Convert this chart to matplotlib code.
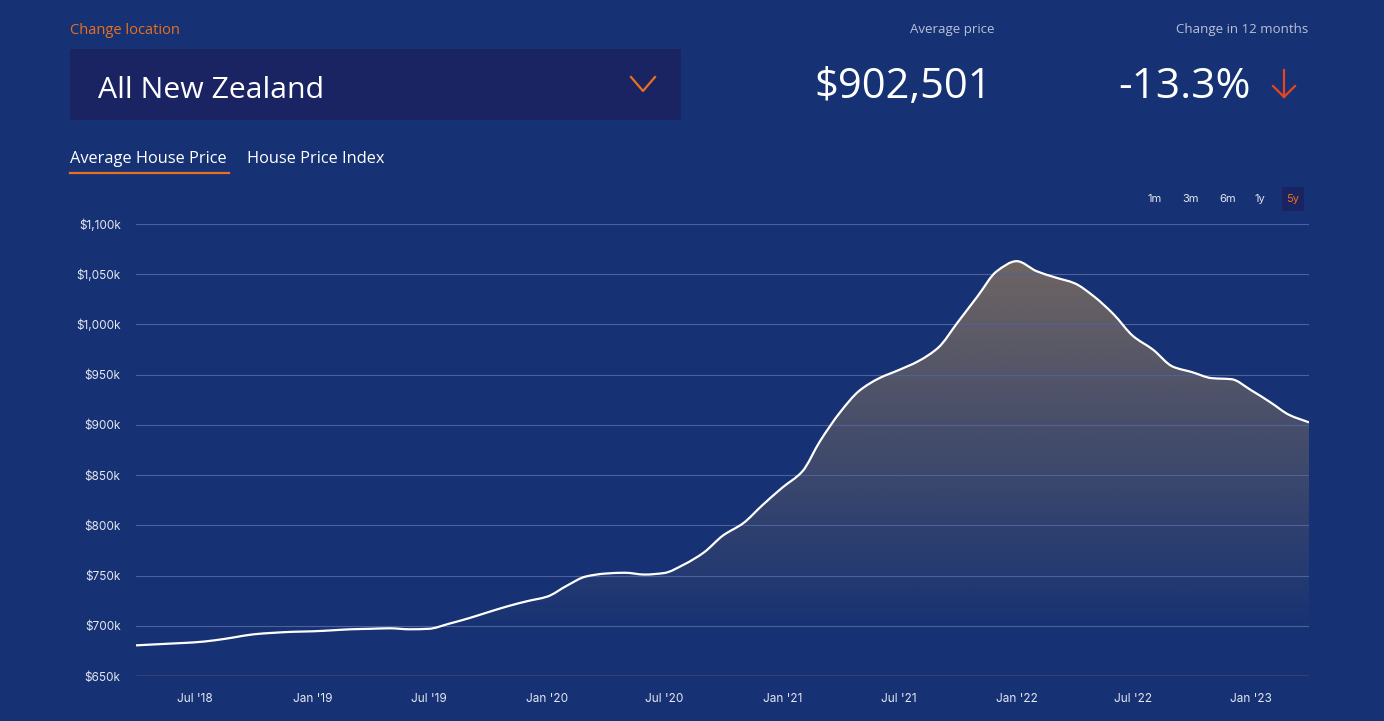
import numpy as np
import pandas as pd
import matplotlib.pyplot as plt
import matplotlib.dates as mdates
from matplotlib.patches import Rectangle, PathPatch
from matplotlib.path import Path
from matplotlib.lines import Line2D

# Average house price, all NZ, monthly ($k)
months = pd.date_range('2018-04-01', '2023-04-01', freq='MS')
prices_k = [680.5, 681.5, 682.5, 683.5, 685.5, 688.5, 691.5, 693, 694, 694.5,
            695.5, 696.5, 697, 697.5, 696.5, 697, 702, 707.5, 713.5, 719.5,
            724.5, 729, 740, 749, 752, 752.8, 751, 752.5, 761, 773,
            790, 802, 820, 837.5, 853.5, 884, 912.5, 934, 946.5, 954.5,
            963.5, 977, 1002, 1028, 1053, 1063, 1053, 1047, 1041, 1028,
            1010, 988.5, 975, 958, 952.5, 946.5, 945.5, 934.5, 922, 910,
            902.5]

tick_dates = ['2018-07-01', '2019-01-01', '2019-07-01', '2020-01-01', '2020-07-01',
              '2021-01-01', '2021-07-01', '2022-01-01', '2022-07-01', '2023-01-01']
tick_labels = ["Jul '18", "Jan '19", "Jul '19", "Jan '20", "Jul '20",
               "Jan '21", "Jul '21", "Jan '22", "Jul '22", "Jan '23"]
y_ticks = [650, 700, 750, 800, 850, 900, 950, 1000, 1050, 1100]
ranges = ['1m', '3m', '6m', '1y', '5y']

BG = '#163274'
ORANGE = '#e8701e'
W, H = 1384, 721

fig = plt.figure(figsize=(W / 100, H / 100), dpi=100, facecolor=BG)


def fx(x):
    return x / W


def fy(y):
    return 1 - y / H


def monotone_path(x, y):
    # monotone cubic through the points (like d3 curveMonotoneX), as bezier
    dx = np.diff(x)
    s = np.diff(y) / dx
    m = np.zeros_like(y)
    m[0], m[-1] = s[0], s[-1]
    for i in range(1, len(y) - 1):
        if s[i - 1] * s[i] > 0:
            m[i] = 3 * (dx[i - 1] + dx[i]) / ((2 * dx[i] + dx[i - 1]) / s[i - 1] +
                                               (dx[i] + 2 * dx[i - 1]) / s[i])
    verts = [(x[0], y[0])]
    codes = [Path.MOVETO]
    for i in range(len(x) - 1):
        h = dx[i] / 3
        verts += [(x[i] + h, y[i] + m[i] * h),
                  (x[i + 1] - h, y[i + 1] - m[i + 1] * h),
                  (x[i + 1], y[i + 1])]
        codes += [Path.CURVE4] * 3
    return verts, codes


ax = fig.add_axes([fx(136), fy(676), fx(1309) - fx(136), (676 - 224) / H])
ax.set_facecolor(BG)

x = mdates.date2num(months)
y = np.array(prices_k, dtype=float)

ax.set_xlim(x[0], x[-1])
ax.set_ylim(650, 1100)

verts, codes = monotone_path(x, y)

# gradient fill under the curve
grad_h = 256
yy = np.linspace(1100, 650, grad_h)
alpha = np.clip((yy - 690) / (1063 - 690), 0, 1) * 0.6
img = np.zeros((grad_h, 2, 4))
img[:, :, 0] = 170 / 255
img[:, :, 1] = 135 / 255
img[:, :, 2] = 88 / 255
img[:, :, 3] = alpha[:, None]
im = ax.imshow(img, extent=[x[0], x[-1], 650, 1100], aspect='auto',
               interpolation='bilinear', zorder=1)
area = Path(verts + [(x[-1], 650), (x[0], 650), (x[0], y[0])],
            codes + [Path.LINETO, Path.LINETO, Path.CLOSEPOLY])
clip = PathPatch(area, facecolor='none', edgecolor='none')
ax.add_patch(clip)
im.set_clip_path(clip)

for v in y_ticks[1:]:
    ax.axhline(v, color='#4e619a', lw=0.8, zorder=2)
ax.axhline(650, color='#38416c', lw=1.4, zorder=2)

ax.add_patch(PathPatch(Path(verts, codes), facecolor='none', edgecolor='white',
                       lw=1.6, zorder=3))

for s in ax.spines.values():
    s.set_visible(False)
ax.set_yticks(y_ticks)
ax.set_yticklabels(['${:,}k'.format(v) for v in y_ticks])
ax.set_xticks(mdates.date2num(pd.to_datetime(tick_dates)))
ax.set_xticklabels(tick_labels)
ax.tick_params(length=0, colors='#e4e7f0', labelsize=8.5)
ax.tick_params(axis='y', pad=11)
ax.tick_params(axis='x', pad=12)
for lab in ax.get_xticklabels() + ax.get_yticklabels():
    lab.set_family('Inter')

# header
hfont = 'Open Sans'
fig.text(fx(70), fy(31), 'Change location', color=ORANGE, fontsize=10.5,
         family=hfont, va='center', ha='left')
fig.add_artist(Rectangle((fx(70), fy(120)), fx(681) - fx(70), (120 - 49) / H,
                         transform=fig.transFigure, facecolor='#1b2462',
                         edgecolor='none'))
fig.text(fx(98), fy(90), 'All New Zealand', color='white', fontsize=21.8,
         family=hfont, va='center', ha='left')
fig.add_artist(Line2D([fx(631), fx(643), fx(655)], [fy(77), fy(91), fy(77)],
                      transform=fig.transFigure, color=ORANGE, lw=1.6))

fig.text(fx(70), fy(159), 'Average House Price', color='white', fontsize=11.8,
         family=hfont, va='center', ha='left')
fig.text(fx(247), fy(159), 'House Price Index', color='white', fontsize=11.8,
         family=hfont, va='center', ha='left')
fig.add_artist(Line2D([fx(70), fx(229)], [fy(173), fy(173)],
                      transform=fig.transFigure, color=ORANGE, lw=1.6))

fig.text(fx(995), fy(30), 'Average price', color='#b9c1d8', fontsize=9.5,
         family=hfont, va='center', ha='right')
fig.text(fx(992), fy(87), '$902,501', color='white', fontsize=30,
         family=hfont, va='center', ha='right')
fig.text(fx(1308), fy(30), 'Change in 12 months', color='#b9c1d8', fontsize=9.5,
         family=hfont, va='center', ha='right')
fig.text(fx(1251), fy(87), '-13.3%', color='white', fontsize=30.5,
         family=hfont, va='center', ha='right')
ARROW = '#e8441e'
fig.add_artist(Line2D([fx(1284), fx(1284)], [fy(70), fy(97)],
                      transform=fig.transFigure, color=ARROW, lw=1.6))
fig.add_artist(Line2D([fx(1273), fx(1284), fx(1295)], [fy(86), fy(97), fy(86)],
                      transform=fig.transFigure, color=ARROW, lw=1.6))

# range buttons
btn_x = [1155, 1191, 1228, 1260, 1293]
fig.add_artist(Rectangle((fx(1282), fy(211)), fx(1304) - fx(1282), 24 / H,
                         transform=fig.transFigure, facecolor='#1b2462',
                         edgecolor='none'))
for bx, r in zip(btn_x, ranges):
    fig.text(fx(bx), fy(199), r, color=ORANGE if r == '5y' else '#e4e7f0',
             fontsize=8, family='Inter', va='center', ha='center')

fig.savefig('out.png', dpi=100, facecolor=BG)
